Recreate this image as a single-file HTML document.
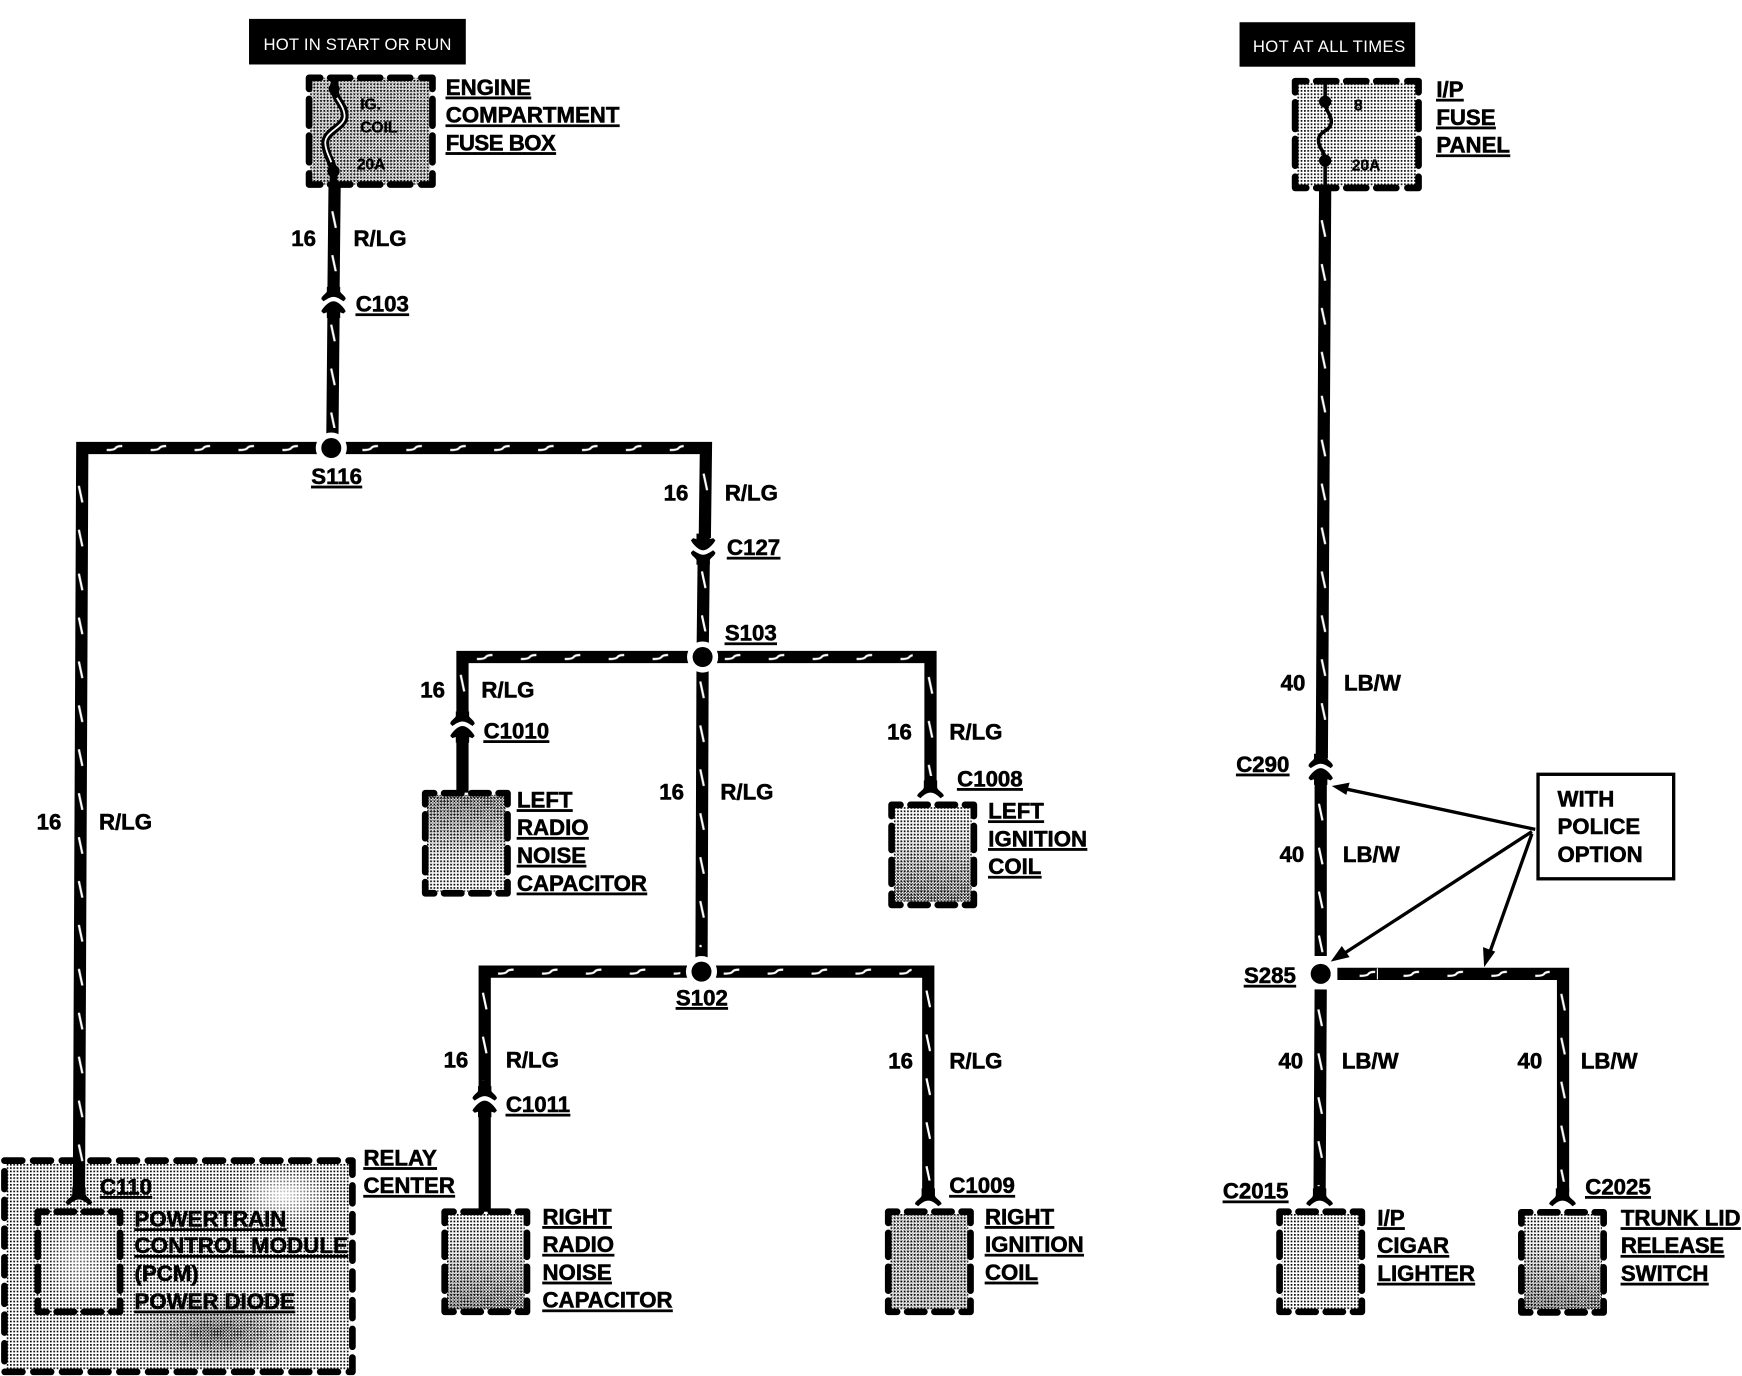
<!DOCTYPE html>
<html><head><meta charset="utf-8"><style>
html,body{margin:0;padding:0;background:#fff}
svg{display:block}
text{font-family:"Liberation Sans",sans-serif;font-weight:bold;font-size:20px;fill:#000;stroke:#000;stroke-width:.5px}
.u{text-decoration:underline}
.s{font-size:14px;stroke-width:.25px}
.w{fill:#fff;stroke:none;font-weight:normal;font-size:15px}
.wire{stroke:#000;stroke-width:11;fill:none}
.d{fill:none;stroke:#000;stroke-width:6;stroke-linecap:round;stroke-linejoin:round}
.box{fill:none;stroke:#000;stroke-width:6;stroke-dasharray:16 9.8;stroke-linecap:round;stroke-linejoin:round}
.arr{stroke:#000;stroke-width:3;fill:none}
</style></head><body>
<svg width="1742" height="1376" viewBox="0 0 1742 1376" xmlns="http://www.w3.org/2000/svg">
<defs>
<pattern id="p1" width="3" height="3" patternUnits="userSpaceOnUse"><rect width="3" height="3" fill="#fff"/><rect width="1.5" height="1.5" fill="#000"/></pattern>
<pattern id="p2" width="2.6" height="2.6" patternUnits="userSpaceOnUse"><rect width="1.3" height="1.3" fill="#000"/><rect x="1.3" y="1.3" width="1.3" height="1.3" fill="#000"/></pattern>
<pattern id="pv" x="-6" y="0" width="12" height="39.5" patternUnits="userSpaceOnUse"><path d="M4.4,1 L7.6,16" stroke="#fff" stroke-width="2" fill="none"/></pattern>
<pattern id="ph" x="0" y="-6" width="39.5" height="12" patternUnits="userSpaceOnUse"><path d="M1,7.8 Q8,7.8 9,6 T15,4.2" stroke="#fff" stroke-width="2" fill="none"/></pattern>
<linearGradient id="gd" x1="0" y1="0" x2="0" y2="1"><stop offset="0" stop-color="#000"/><stop offset=".35" stop-color="#222"/><stop offset="1" stop-color="#bbb"/></linearGradient>
<linearGradient id="gu" x1="0" y1="1" x2="0" y2="0"><stop offset="0" stop-color="#000"/><stop offset=".4" stop-color="#222"/><stop offset="1" stop-color="#bbb"/></linearGradient>
<radialGradient id="gr"><stop offset="0" stop-color="#ddd"/><stop offset="1" stop-color="#000"/></radialGradient>
<radialGradient id="gw"><stop offset="0" stop-color="#fff" stop-opacity=".85"/><stop offset="1" stop-color="#fff" stop-opacity="0"/></radialGradient>
<mask id="md" maskContentUnits="objectBoundingBox"><rect width="1" height="1" fill="url(#gd)"/></mask>
<mask id="mu" maskContentUnits="objectBoundingBox"><rect width="1" height="1" fill="url(#gu)"/></mask>
<mask id="mr" maskContentUnits="objectBoundingBox"><rect width="1" height="1" fill="url(#gr)"/></mask>

<g id="dbl">
<path d="M-6,-14 V-10 C-6,-8 -11,-6 -11,-3 L-9,-1 C-6,-3 -3,-5 0,-5 C3,-5 6,-3 9,-1 L11,-3 C11,-6 6,-8 6,-10 V-14Z"/>
<path d="M0,-1 C4,-1 9,4 11,8 L9,10 L6,9 V14 H-6 V9 L-9,10 L-11,8 C-9,4 -4,-1 0,-1Z"/>
</g>
<path id="capd" d="M-6,-16 V-10 C-6,-7 -12,-5 -12,-2 L-9,0 C-6,-3 -3,-5 0,-5 C3,-5 6,-3 9,0 L12,-2 C12,-5 6,-7 6,-10 V-16Z"/>

<g id="sb" class="d">
<path d="M0,10 V0 H8"/><path d="M66,0 H74 V10"/><path d="M74,80 V90 H66"/><path d="M8,90 H0 V80"/>
<path d="M17,0 H32.5 M41.5,0 H57 M17,90 H32.5 M41.5,90 H57"/>
<path d="M0,19 V40.5 M0,49.5 V71 M74,19 V40.5 M74,49.5 V71"/>
</g>
<g id="fb" class="d">
<path d="M0,10 V0 H10"/><path d="M101,0 H111 V10"/><path d="M111,86 V96 H101"/><path d="M10,96 H0 V86"/>
<path d="M19,0 H37 M46,0 H64 M73,0 H91 M19,96 H37 M46,96 H64 M73,96 H91"/>
<path d="M0,19 V43 M0,52 V76 M111,19 V43 M111,52 V76"/>
</g>
</defs>
<g transform="scale(1.1117)">

<!-- device fills -->
<rect x="279" y="70" width="108" height="96" fill="url(#p1)"/><rect x="279" y="70" width="108" height="96" fill="url(#p2)" opacity=".35"/>
<rect x="1167" y="74" width="108" height="94" fill="url(#p1)"/>
<rect x="384" y="715" width="71" height="87" fill="url(#p1)"/><rect x="384" y="715" width="71" height="87" fill="url(#p2)" mask="url(#mu)"/>
<rect x="804" y="726" width="70" height="85" fill="url(#p1)"/><rect x="804" y="726" width="70" height="85" fill="url(#p2)" mask="url(#md)"/>
<rect x="402" y="1092" width="70" height="86" fill="url(#p1)"/><rect x="402" y="1092" width="70" height="86" fill="url(#p2)" mask="url(#md)"/>
<rect x="801" y="1092" width="70" height="86" fill="url(#p1)"/><rect x="801" y="1092" width="70" height="86" fill="url(#p2)" opacity=".3"/>
<rect x="6" y="1046" width="309" height="186" fill="url(#p1)"/>
<rect x="110" y="1165" width="170" height="66" fill="url(#p2)" mask="url(#mr)"/>
<ellipse cx="255" cy="1075" rx="45" ry="25" fill="url(#gw)"/>
<ellipse cx="70" cy="1135" rx="32" ry="40" fill="url(#gw)" opacity=".5"/>
<rect x="1153" y="1092" width="70" height="86" fill="url(#p1)"/>
<rect x="1371" y="1092" width="70" height="86" fill="url(#p1)"/><rect x="1371" y="1092" width="70" height="86" fill="url(#p2)" mask="url(#md)"/>

<!-- device outlines -->
<use href="#fb" x="278" y="70"/>
<use href="#fb" x="1165" y="73"/>
<use href="#sb" x="382.5" y="713.5"/>
<use href="#sb" x="802" y="724"/>
<use href="#sb" x="400" y="1090"/>
<use href="#sb" x="799" y="1090"/>
<use href="#sb" x="34" y="1090"/>
<use href="#sb" x="1151" y="1090"/>
<use href="#sb" x="1368.5" y="1090.5"/>
<rect class="box" x="4" y="1044" width="313" height="190"/>

<!-- wires -->
<path class="wire" d="M301,165 L300,262"/>
<path class="wire" d="M300,282 L299,392"/>
<path class="wire" d="M71,1072 L74,403 L635,403 L634,484"/>
<path class="wire" d="M633,504 L632,592 L631,870"/>
<path class="wire" d="M416,644 L416,591 L837,591 L837,704"/>
<path class="wire" d="M416,664 L416,713"/>
<path class="wire" d="M436,981 L436,874 L835,874 L835,1072"/>
<path class="wire" d="M436,1001 L436,1090"/>
<path class="wire" d="M1192,170 L1189,682"/>
<path class="wire" d="M1188,702 L1188,860"/>
<path class="wire" d="M1188,890 L1187,1072"/>
<path class="wire" d="M1203,876 L1406,876 L1406,1072"/>

<!-- ticks -->
<rect transform="translate(300.5,189)" x="-6" width="12" height="55" fill="url(#pv)"/>
<rect transform="translate(299.5,291)" x="-6" width="12" height="94" fill="url(#pv)"/>
<rect transform="translate(72.5,436)" x="-6" width="12" height="620" fill="url(#pv)"/>
<rect transform="translate(95,403)" y="-6" width="175" height="12" fill="url(#ph)"/>
<rect transform="translate(325,403)" y="-6" width="290" height="12" fill="url(#ph)"/>
<rect transform="translate(634.5,425)" x="-6" width="12" height="17" fill="url(#pv)"/>
<rect transform="translate(633,513)" x="-6" width="12" height="55" fill="url(#pv)"/>
<rect transform="translate(631.5,612)" x="-6" width="12" height="240" fill="url(#pv)"/>
<rect transform="translate(428,591)" y="-6" width="180" height="12" fill="url(#ph)"/>
<rect transform="translate(651,591)" y="-6" width="170" height="12" fill="url(#ph)"/>
<rect transform="translate(416,606)" x="-6" width="12" height="20" fill="url(#pv)"/>
<rect transform="translate(837,608)" x="-6" width="12" height="90" fill="url(#pv)"/>
<rect transform="translate(447,874)" y="-6" width="165" height="12" fill="url(#ph)"/>
<rect transform="translate(650,874)" y="-6" width="170" height="12" fill="url(#ph)"/>
<rect transform="translate(436,892)" x="-6" width="12" height="80" fill="url(#pv)"/>
<rect transform="translate(835,890)" x="-6" width="12" height="172" fill="url(#pv)"/>
<rect transform="translate(1190.5,197)" x="-6" width="12" height="470" fill="url(#pv)"/>
<rect transform="translate(1188,722)" x="-6" width="12" height="135" fill="url(#pv)"/>
<rect transform="translate(1187.5,907)" x="-6" width="12" height="160" fill="url(#pv)"/>
<rect transform="translate(1222,876)" y="-6" width="172" height="12" fill="url(#ph)"/>
<rect transform="translate(1406,893)" x="-6" width="12" height="170" fill="url(#pv)"/>
<path d="M1239,871 V881" stroke="#fff" stroke-width="1"/>

<!-- connectors -->
<use href="#dbl" transform="translate(300,272)"/>
<use href="#dbl" transform="translate(632.5,494) scale(1,-1)"/>
<use href="#dbl" transform="translate(416,654)"/>
<use href="#dbl" transform="translate(436,991)"/>
<use href="#dbl" transform="translate(1188,692)"/>
<use href="#capd" transform="translate(837,718)"/>
<use href="#capd" transform="translate(835,1085)"/>
<use href="#capd" transform="translate(71,1084)"/>
<use href="#capd" transform="translate(1187,1085)"/>
<use href="#capd" transform="translate(1405.5,1085)"/>

<!-- splices -->
<circle cx="298" cy="403" r="14" fill="#fff"/><circle cx="298" cy="403" r="9" fill="#000"/>
<circle cx="632" cy="591" r="14" fill="#fff"/><circle cx="632" cy="591" r="9" fill="#000"/>
<circle cx="631" cy="874" r="14" fill="#fff"/><circle cx="631" cy="874" r="9" fill="#000"/>
<circle cx="1188" cy="876" r="13" fill="#fff"/><circle cx="1188" cy="876" r="9" fill="#000"/>

<!-- fuses -->
<path d="M301,69 V80 C301,90 311,95 310,105 C309,115 292,118 292.6,129 C293,140 299,145 300,154 V167" fill="none" stroke="#000" stroke-width="7"/>
<path d="M303,88 C306,93 310,98 310,105 C309,115 292,118 292.6,129 C293,136 296,140 298,146" fill="none" stroke="#fff" stroke-width="1.6"/>
<circle cx="300.6" cy="80" r="5"/><circle cx="300" cy="154" r="5.5"/>
<path d="M1192,72 V92 C1192,100 1198,103 1197.5,110 C1197,118 1186,118 1186,126 C1186,134 1192,136 1192,144 V170" fill="none" stroke="#000" stroke-width="3.2"/>
<circle cx="1192" cy="91.5" r="5.5"/><circle cx="1192" cy="144.5" r="5.5"/>

<!-- black labels -->
<rect x="224" y="17" width="195" height="41" fill="#000"/>
<text class="w" x="237" y="45" textLength="169">HOT IN START OR RUN</text>
<rect x="1115" y="20" width="158" height="40" fill="#000"/>
<text class="w" x="1127" y="47" textLength="137">HOT AT ALL TIMES</text>

<!-- police box and arrows -->
<rect x="1383.5" y="696.5" width="122" height="94" fill="#fff" stroke="#000" stroke-width="3"/>
<path class="arr" d="M1381,746 L1212,710"/><path d="M1198,707 L1214,704 L1211,715 Z"/>
<path class="arr" d="M1378,748 L1210,857"/><path d="M1197,865 L1207,851 L1214,861 Z"/>
<path class="arr" d="M1378,750 L1340,857"/><path d="M1335,870 L1334,852 L1345,856 Z"/>

<!-- text -->
<g transform="translate(0,-.7)">
<text class="u" x="401" y="86">ENGINE</text>
<text class="u" x="401" y="111">COMPARTMENT</text>
<text class="u" x="401" y="136" textLength="99">FUSE BOX</text>
<text class="s" x="324" y="99">IG.</text>
<text class="s" x="324" y="120">COIL</text>
<text class="s" x="321" y="153">20A</text>
<text x="262" y="222">16</text><text x="318" y="222">R/LG</text>
<text class="u" x="320" y="281">C103</text>
<text class="u" x="280" y="436">S116</text>
<text x="597" y="451">16</text><text x="652" y="451">R/LG</text>
<text class="u" x="654" y="500">C127</text>
<text class="u" x="652" y="577">S103</text>
<text x="378" y="628">16</text><text x="433" y="628">R/LG</text>
<text class="u" x="435" y="665">C1010</text>
<text x="593" y="720">16</text><text x="648" y="720">R/LG</text>
<text x="798" y="666">16</text><text x="854" y="666">R/LG</text>
<text class="u" x="861" y="708">C1008</text>
<text class="u" x="465" y="727">LEFT</text>
<text class="u" x="465" y="752">RADIO</text>
<text class="u" x="465" y="777">NOISE</text>
<text class="u" x="465" y="802">CAPACITOR</text>
<text class="u" x="889" y="737">LEFT</text>
<text class="u" x="889" y="762">IGNITION</text>
<text class="u" x="889" y="787">COIL</text>
<text x="33" y="747">16</text><text x="89" y="747">R/LG</text>
<text class="u" x="608" y="905">S102</text>
<text x="399" y="961">16</text><text x="455" y="961">R/LG</text>
<text x="799" y="962">16</text><text x="854" y="962">R/LG</text>
<text class="u" x="455" y="1001">C1011</text>
<text class="u" x="854" y="1074">C1009</text>
<text class="u" x="488" y="1102">RIGHT</text>
<text class="u" x="488" y="1127">RADIO</text>
<text class="u" x="488" y="1152">NOISE</text>
<text class="u" x="488" y="1177">CAPACITOR</text>
<text class="u" x="886" y="1102">RIGHT</text>
<text class="u" x="886" y="1127">IGNITION</text>
<text class="u" x="886" y="1152">COIL</text>
<text class="u" x="327" y="1049">RELAY</text>
<text class="u" x="327" y="1074">CENTER</text>
<text class="u" x="90" y="1075">C110</text>
<text class="u" x="121" y="1104">POWERTRAIN</text>
<text class="u" x="121" y="1128" textLength="192">CONTROL MODULE</text>
<text x="121" y="1153">(PCM)</text>
<text class="u" x="121" y="1178">POWER DIODE</text>
<text class="u" x="1292" y="88">I/P</text>
<text class="u" x="1292" y="113">FUSE</text>
<text class="u" x="1292" y="138">PANEL</text>
<text class="s" x="1218" y="100">8</text>
<text class="s" x="1216" y="154">20A</text>
<text x="1152" y="622">40</text><text x="1209" y="622">LB/W</text>
<text class="u" x="1112" y="695">C290</text>
<text x="1151" y="776">40</text><text x="1208" y="776">LB/W</text>
<text x="1401" y="726">WITH</text>
<text x="1401" y="751">POLICE</text>
<text x="1401" y="776">OPTION</text>
<text class="u" x="1119" y="885">S285</text>
<text x="1150" y="962">40</text><text x="1207" y="962">LB/W</text>
<text x="1365" y="962">40</text><text x="1422" y="962">LB/W</text>
<text class="u" x="1100" y="1079">C2015</text>
<text class="u" x="1426" y="1075">C2025</text>
<text class="u" x="1239" y="1103">I/P</text>
<text class="u" x="1239" y="1128">CIGAR</text>
<text class="u" x="1239" y="1153">LIGHTER</text>
<text class="u" x="1458" y="1103">TRUNK LID</text>
<text class="u" x="1458" y="1128" textLength="93">RELEASE</text>
<text class="u" x="1458" y="1153">SWITCH</text>
</g>
</g>
</svg>
</body></html>
